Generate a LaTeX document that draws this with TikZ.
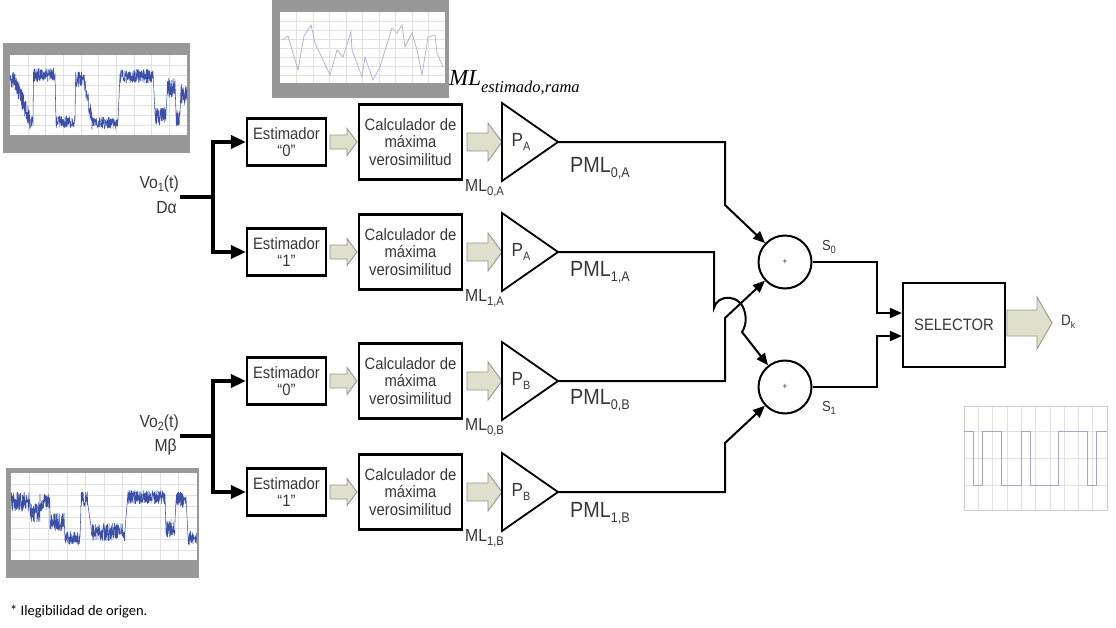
\documentclass[tikz,border=0pt]{standalone}
\usepackage{fontspec}
\usetikzlibrary{arrows.meta}
\newfontfamily\blk{Liberation Sans}[FakeStretch=0.9]
\newfontfamily\tms{Liberation Serif}
\newfontfamily\ftn{Carlito}
\newcommand\fsz[1]{\fontsize{#1}{#1}\selectfont}
\newcommand\dn[3]{\raisebox{-#1pt}{\fsz{#2}#3}}
\definecolor{txt}{RGB}{55,55,55}
\definecolor{fgray}{RGB}{152,152,152}
\definecolor{gridc}{RGB}{225,225,225}
\definecolor{wblue}{RGB}{60,80,170}
\definecolor{mlc}{RGB}{175,172,215}
\definecolor{sqc}{RGB}{168,160,205}
\definecolor{hfill}{RGB}{222,224,204}
\definecolor{hbord}{RGB}{150,150,138}
% fat hollow arrow: tail x, tip x, y, shaft half, head half, head length
\newcommand\fat[6]{\draw[hol] (#1,{#3-#4}) -- ({#2-#6},{#3-#4}) -- ({#2-#6},{#3-#5}) -- (#2,#3) -- ({#2-#6},{#3+#5}) -- ({#2-#6},{#3+#4}) -- (#1,{#3+#4}) -- cycle;}
\begin{document}
\begin{tikzpicture}[x=1pt,y=-1pt,
  box/.style={draw=black, line width=2.2pt, align=center, text=txt, font=\blk\fsz{16.5}, inner sep=0pt},
  est/.style={box, minimum width=79pt, minimum height=47pt},
  calc/.style={box, minimum width=103pt, minimum height=75pt, text depth=0pt},
  hol/.style={draw=hbord, fill=hfill, line width=0.9pt},
  ampl/.style={draw=black, line width=1.8pt, line join=miter},
  sig/.style={draw=black, line width=2pt},
  big/.style={draw=black, line width=3.5pt},
  sumc/.style={circle, draw=black, line width=2pt, minimum size=53pt, inner sep=0pt, font=\blk\fsz{9}, text=txt},
  lbl/.style={font=\blk, text=txt, inner sep=0pt},
  wv/.style={draw=wblue, line width=0.55pt, line join=round},
  tipA/.style={-{Triangle[length=15pt,width=13pt]}},
  tipB/.style={-{Triangle[length=12pt,width=10pt]}}
]
\useasboundingbox[fill=white] (0,0) rectangle (1116,627);

%---------------- plot top-left
\fill[fgray] (3,43) rectangle (190,153);
\fill[white] (10,55) rectangle (187,135);
\foreach \g in {27.7,45.4,...,170} \draw[gridc,line width=0.4pt] (\g,55) -- (\g,135);
\foreach \g in {65,75,...,125} \draw[gridc,line width=0.4pt] (10,\g) -- (187,\g);
\begin{scope}
\clip (10,55) rectangle (187,135);
\pgfmathsetseed{11}
\draw[wv] plot[domain=10:15,samples=25] (\x,{80+9*rand})
 -- plot[domain=15:30,samples=75] (\x,{82+(\x-15)*2.6+10*rand})
 -- plot[domain=30:33,samples=15] (\x,{122+6*rand})
 -- plot[domain=33.5:55,samples=110] (\x,{75+7*rand})
 -- plot[domain=56:75,samples=95] (\x,{122+6*rand})
 -- plot[domain=75.5:84,samples=42] (\x,{79+8*rand})
 -- plot[domain=84:92,samples=40] (\x,{82+(\x-84)*4.8+9*rand})
 -- plot[domain=92:118,samples=130] (\x,{123+6*rand})
 -- plot[domain=120:153,samples=165] (\x,{76+7*rand})
 -- plot[domain=155:166,samples=55] (\x,{116+9*rand})
 -- plot[domain=167:175,samples=40] (\x,{88+10*rand})
 -- plot[domain=176:180,samples=20] (\x,{118+8*rand})
 -- plot[domain=181:187,samples=30] (\x,{94+11*rand});
\end{scope}

%---------------- plot top middle
\fill[fgray] (272,0) rectangle (449,98);
\fill[white] (280,12) rectangle (445,83);
\foreach \g in {296.5,313,...,430} \draw[gridc,line width=0.4pt] (\g,12) -- (\g,83);
\foreach \g in {21,30,...,75} \draw[gridc,line width=0.4pt] (280,\g) -- (445,\g);
\draw[mlc,line width=0.7pt] (282,40) -- (288,36) -- (298,70) -- (304,36) -- (311,25) -- (315,43) -- (330,75) -- (337,50) -- (343,57) -- (351,32) -- (352,50) -- (362,77) -- (365,57) -- (373,80) -- (380,67) -- (383,57) -- (392,28) -- (397,33) -- (402,25) -- (405,47) -- (412,33) -- (417,50) -- (422,75) -- (428,37) -- (435,35) -- (437,53) -- (443,67);
\node[anchor=base west, inner sep=0pt, text=black] (mlest) at (449,85) {\tms\itshape\fsz{23}ML\dn{7}{16.5}{estimado,rama}};

%---------------- plot bottom-left
\fill[fgray] (6,468) rectangle (199,578);
\fill[white] (11,473) rectangle (197,560);
\foreach \g in {29.6,48.2,...,180} \draw[gridc,line width=0.4pt] (\g,473) -- (\g,560);
\foreach \g in {484,495,...,550} \draw[gridc,line width=0.4pt] (11,\g) -- (197,\g);
\begin{scope}
\clip (11,473) rectangle (197,560);
\pgfmathsetseed{5}
\draw[wv] plot[domain=11:30,samples=95] (\x,{502+10*rand})
 -- plot[domain=30:40,samples=50] (\x,{512+10*rand})
 -- plot[domain=40:50,samples=50] (\x,{502+9*rand})
 -- plot[domain=50:64,samples=70] (\x,{522+9*rand})
 -- plot[domain=65:80,samples=75] (\x,{538+7*rand})
 -- plot[domain=81:88,samples=35] (\x,{499+8*rand})
 -- plot[domain=91:125,samples=170] (\x,{532+9*rand})
 -- plot[domain=128:165,samples=185] (\x,{497+7*rand})
 -- plot[domain=166:175,samples=45] (\x,{528+9*rand})
 -- plot[domain=176:186,samples=50] (\x,{500+8*rand})
 -- plot[domain=188:197,samples=45] (\x,{538+7*rand});
\end{scope}

%---------------- plot right
\foreach \g in {978.3,992.6,...,1100} \draw[gridc,line width=0.5pt] (\g,406) -- (\g,510);
\foreach \g in {431,458,485} \draw[gridc,line width=0.5pt] (964,\g) -- (1107,\g);
\draw[gridc!80!gray,line width=0.6pt] (964,406) rectangle (1107,510);
\draw[sqc,line width=0.9pt] (964,431) -| (973,485) -| (982,431) -| (1001,485) -| (1021,431) -| (1030,485) -| (1058,431) -| (1087,485) -| (1096,431) -- (1107,431);

%---------------- blocks
\foreach \i/\r/\d/\g in {0/142/0/A,1/252/1/A,2/381/0/B,3/492/1/B}{
  \node[est] (e\i) at (286.5,\r) {Estimador\\[1pt]“\d”};
  \node[calc] (c\i) at (410.5,\r) {Calculador de\\[1pt]máxima\\[1pt]verosimilitud};
  \fat{330}{357}{\r}{7}{13.5}{10}
  \fat{467}{502}{\r}{9}{19}{14}
  \draw[ampl] (502,{\r-39}) -- (558,\r) -- (502,{\r+39}) -- cycle;
  \coordinate (a\i) at (558,\r);
  \node[lbl, font=\blk\fsz{19}] (p\i) at (521,\r) {P\dn{4}{12}{\g}};
  \node[lbl, anchor=west, font=\blk\fsz{17.5}] (m\i) at (465,{\r+46}) {ML\dn{4}{12.5}{\d,\g}};
}
\node[lbl, anchor=west, font=\blk\fsz{22}] (q0) at (570,168) {PML\dn{5}{14}{0,A}};
\node[lbl, anchor=west, font=\blk\fsz{22}] (q1) at (570,272) {PML\dn{5}{14}{1,A}};
\node[lbl, anchor=west, font=\blk\fsz{22}] (q2) at (570,400) {PML\dn{5}{14}{0,B}};
\node[lbl, anchor=west, font=\blk\fsz{22}] (q3) at (570,513) {PML\dn{5}{14}{1,B}};

%---------------- inputs
\node[lbl, anchor=east, font=\blk\fsz{17.5}] (v1) at (179,184) {Vo\dn{3}{12}{1}(t)};
\node[lbl, anchor=east, font=\blk\fsz{17.5}] (d1) at (177,208) {Dα};
\node[lbl, anchor=east, font=\blk\fsz{17.5}] (v2) at (179,423) {Vo\dn{3}{12}{2}(t)};
\node[lbl, anchor=east, font=\blk\fsz{17.5}] (d2) at (177,447) {Mβ};
\coordinate (i1) at (180,197); \coordinate (j1) at (213,197);
\coordinate (i2) at (180,436); \coordinate (j2) at (213,436);
\draw[big] (i1) -- (j1);
\draw[big,tipA] (j1) |- (e0.west);
\draw[big,tipA] (j1) |- (e1.west);
\draw[big] (i2) -- (j2);
\draw[big,tipA] (j2) |- (e2.west);
\draw[big,tipA] (j2) |- (e3.west);

%---------------- adders
\node[sumc] (s0) at (785,262) {+};
\node[sumc] (s1) at (785,387) {+};
\node[lbl, font=\blk\fsz{14.5}] (s0l) at (829,247) {S\dn{3}{10.5}{0}};
\node[lbl, font=\blk\fsz{14.5}] (s1l) at (829,408) {S\dn{3}{10.5}{1}};
\coordinate (b0) at (725,205);
\coordinate (b1) at (714,308);
\coordinate (b1e) at (742,332);
\coordinate (b2) at (725,318);
\coordinate (b3) at (725,443);
\draw[sig,tipB] (a0) -| (b0) -- (s0);
\draw[sig,tipB] (a2) -| (b2) -- (s0);
\draw[sig,tipB] (a1) -| (b1) .. controls (717,294) and (741,293) .. (745,313) .. controls (747,323) and (744,329) .. (b1e) -- (s1);
\draw[sig,tipB] (a3) -| (b3) -- (s1);

%---------------- selector
\node[box, minimum width=102pt, minimum height=84pt] (sel) at (954,325) {SELECTOR};
\coordinate (k0) at (877,313);
\coordinate (k1) at (877,336);
\draw[sig,tipB] (s0.east) -| (k0) -- (k0 -| sel.west);
\draw[sig,tipB] (s1.east) -| (k1) -- (k1 -| sel.west);
\fat{1007}{1052}{323}{13}{26}{15}
\node[lbl, font=\blk\fsz{15}] (dk) at (1068,322) {D\dn{3}{9.5}{k}};

%---------------- footnote
\node[anchor=west, inner sep=0pt, font=\ftn\fsz{14.5}, text=black] (fn) at (10,612) {* Ilegibilidad de origen.};
\end{tikzpicture}
\end{document}
